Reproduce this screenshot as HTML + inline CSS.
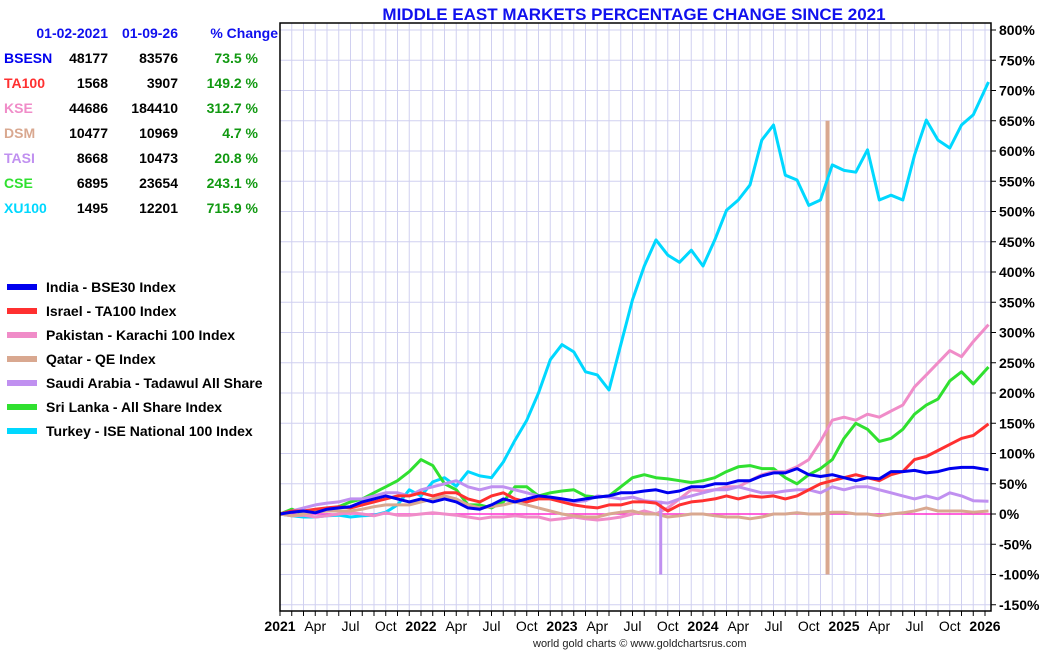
<!DOCTYPE html>
<html><head><meta charset="utf-8"><style>
body{margin:0;background:#fff;width:1050px;height:650px;overflow:hidden;font-family:"Liberation Sans",sans-serif}
svg text{font-family:"Liberation Sans",sans-serif}
</style></head><body>
<svg id="c" width="1050" height="650" xmlns="http://www.w3.org/2000/svg">
<text x="634" y="20" text-anchor="middle" font-size="17" font-weight="bold" fill="#1010ee">MIDDLE EAST MARKETS PERCENTAGE CHANGE SINCE 2021</text>
<text x="533" y="647" font-size="11" fill="#222">world gold charts © www.goldchartsrus.com</text>
<g id="grid"></g><g id="series"></g><g id="axes"></g><g id="table"></g><g id="legend"></g>
</svg>
<script>
const tickPcts=[800,750,700,650,600,550,500,450,400,350,300,250,200,150,100,50,0,-50,-100,-150];
const xLabels=["2021","Apr","Jul","Oct","2022","Apr","Jul","Oct","2023","Apr","Jul","Oct","2024","Apr","Jul","Oct","2025","Apr","Jul","Oct","2026"];
const months=[0,1,2,3,4,5,6,7,8,9,10,11,12,13,14,15,16,17,18,19,20,21,22,23,24,25,26,27,28,29,30,31,32,33,34,35,36,37,38,39,40,41,42,43,44,45,46,47,48,49,50,51,52,53,54,55,56,57,58,59,60.3];
const turkey=[0,-3,-5,-5,-3,-2,-5,-3,-2,3,15,40,30,53,60,46,70,63,60,86,122,155,200,255,280,268,235,230,205,280,354,410,453,428,416,436,410,453,502,519,544,618,643,560,552,510,519,577,568,565,602,519,527,519,593,651,618,605,643,660,714];
const srilanka=[0,8,0,5,8,12,20,25,35,45,55,70,90,80,50,40,15,15,10,20,45,45,30,35,38,40,30,28,30,45,60,65,60,58,55,52,55,60,70,78,80,75,75,60,50,65,75,90,125,150,140,120,125,140,165,180,190,220,235,215,243];
const pakistan=[0,-3,-2,-5,-3,0,2,0,-3,2,-2,-2,0,2,0,-2,-5,-8,-5,-5,-3,-5,-5,-10,-8,-5,-8,-10,-8,-5,0,5,0,10,25,40,38,40,45,45,55,65,70,70,78,90,120,155,160,155,165,160,170,180,210,230,250,270,260,285,313];
const israel=[0,5,5,8,10,12,10,15,20,25,30,30,35,30,35,35,25,20,30,35,25,20,25,25,20,15,12,10,15,15,20,20,18,5,15,20,22,25,30,25,30,28,30,25,30,40,50,55,60,65,60,55,65,70,90,95,105,115,125,130,149];
const india=[0,3,5,2,8,10,12,20,25,30,25,20,25,20,25,20,10,8,15,25,20,25,30,28,25,22,25,28,30,35,35,38,40,35,38,45,45,50,50,55,55,63,68,68,75,65,62,65,60,55,60,58,70,70,72,68,70,75,77,77,73];
const saudi=[0,5,10,15,18,20,25,25,30,35,35,30,40,45,50,55,45,40,45,45,40,35,30,25,25,20,22,30,28,25,28,22,20,18,25,30,35,40,40,45,40,35,35,38,40,40,35,45,40,45,45,40,35,30,25,30,25,35,30,22,21];
const qatar=[0,-3,0,3,5,5,5,8,12,15,15,15,20,25,30,25,15,10,12,15,20,15,10,5,0,-3,-5,-5,0,3,5,0,0,-5,-3,0,0,-3,-5,-5,-8,-5,0,0,2,0,0,3,3,0,0,-3,0,2,5,10,5,5,5,3,5];
const saudiSpike=[32.4,-100];
const qatarSpike=[46.6,-100,650];
const seriesNames=["Turkey - ISE National 100 Index","Sri Lanka - All Share Index","Pakistan - Karachi 100 Index","Qatar - QE Index","Saudi Arabia - Tadawul All Share","Israel - TA100 Index","India - BSE30 Index"];
const tableCodes=["BSESN","TA100","KSE","DSM","TASI","CSE","XU100"];
const startVals=["48177","1568","44686","10477","8668","6895","1495"];
const endVals=["83576","3907","184410","10969","10473","23654","12201"];
const pctChanges=["73.5 %","149.2 %","312.7 %","4.7 %","20.8 %","243.1 %","715.9 %"];
const legendNames=["India - BSE30 Index","Israel - TA100 Index","Pakistan - Karachi 100 Index","Qatar - QE Index","Saudi Arabia - Tadawul All Share","Sri Lanka - All Share Index","Turkey - ISE National 100 Index"];
const legendColors=["#0000ee","#ff3030","#f08cc8","#d9a890","#c090f0","#30e030","#00d8ff"];

const NS="http://www.w3.org/2000/svg";
const X0=280,X1=991,Y0=23,Y1=611;
const xs=m=>X0+m*11.75;
const ys=p=>514-p*0.605;
function mk(tag,attrs,parent){const e=document.createElementNS(NS,tag);for(const k in attrs)e.setAttribute(k,attrs[k]);parent.appendChild(e);return e;}
const grid=document.getElementById('grid'),axes=document.getElementById('axes'),ser=document.getElementById('series');
mk('rect',{x:X0,y:Y0,width:X1-X0,height:Y1-Y0,fill:'#fff'},grid);
for(let m=0;m<=60;m++){const l=mk('line',{x1:xs(m),x2:xs(m),y1:Y0,y2:Y1,stroke:'#d0d0f0','stroke-width':1},grid);

}
tickPcts.forEach(p=>{const y=ys(p);
const l=mk('line',{x1:X0,x2:X1,y1:y,y2:y,stroke:'#d0d0f0','stroke-width':1},grid);


mk('line',{x1:X1,x2:X1+5,y1:y,y2:y,stroke:'#000'},axes);
const t=mk('text',{x:X1+8,y:y+5,'font-size':14,'font-weight':'bold',fill:'#000'},axes);t.textContent=p+'%';

});
for(let m=0;m<=60;m++){mk('line',{x1:xs(m),x2:xs(m),y1:Y1,y2:Y1+5,stroke:'#000'},axes);}
xLabels.forEach((s,i)=>{const m=i*3;const bold=(i%4===0);
const t=mk('text',{x:xs(m),y:631,'font-size':14,'font-weight':bold?'bold':'normal','text-anchor':i===0?'middle':'middle',fill:'#000'},axes);t.textContent=s;

});
mk('rect',{x:X0,y:Y0,width:X1-X0,height:Y1-Y0,fill:'none',stroke:'#000','stroke-width':1.5},axes);
const zl=mk('line',{x1:X0,x2:X1,y1:ys(0),y2:ys(0),stroke:'#ff30d0','stroke-width':1.5},ser);


function line(data,color,name){const pts=data.map((v,i)=>xs(months[i]).toFixed(1)+','+ys(v).toFixed(1)).join(' ');
const p=mk('polyline',{points:pts,fill:'none',stroke:color,'stroke-width':3,'stroke-linejoin':'round'},ser);

}
const sp1=mk('line',{x1:xs(qatarSpike[0]),x2:xs(qatarSpike[0]),y1:ys(qatarSpike[1]),y2:ys(qatarSpike[2]),stroke:'#d9a890','stroke-width':4},ser);


line(turkey,'#00d8ff','turkey-line');
line(srilanka,'#30e030','srilanka-line');
line(pakistan,'#f08cc8','pakistan-line');
line(qatar,'#d9a890','qatar-line');
line(saudi,'#c090f0','saudi-line');
const sp2=mk('line',{x1:xs(saudiSpike[0]),x2:xs(saudiSpike[0]),y1:ys(22),y2:ys(saudiSpike[1]),stroke:'#c090f0','stroke-width':3},ser);


line(israel,'#ff3030','israel-line');
line(india,'#0000ee','india-line');
// table
const tb=document.getElementById('table');
function txt(x,y,s,color,anchor,name){const t=mk('text',{x:x,y:y,'font-size':14,'font-weight':'bold',fill:color,'text-anchor':anchor},tb);t.textContent=s;

}
txt(108,38,'01-02-2021','#1010ee','end','table-header-start');
txt(178,38,'01-09-26','#1010ee','end','table-header-end');
txt(278,38,'% Change','#1010ee','end','table-header-change');
const codeColors=["#0000ee","#ff3030","#f08cc8","#d9a890","#c090f0","#30e030","#00d8ff"];
tableCodes.forEach((c,i)=>{const y=63+i*25;
txt(4,y,c,codeColors[i],'start','table-code');
txt(108,y,startVals[i],'#000','end','table-start-value');
txt(178,y,endVals[i],'#000','end','table-end-value');
txt(258,y,pctChanges[i],'#119911','end','table-pct-change');});
const lg=document.getElementById('legend');
legendNames.forEach((n,i)=>{const y=287+i*24;
const r=mk('rect',{x:7,y:y-3,width:30,height:6,fill:legendColors[i]},lg);


const t=mk('text',{x:46,y:y+5,'font-size':14,'font-weight':'bold',fill:'#000'},lg);t.textContent=n;

});
</script>
</body></html>
